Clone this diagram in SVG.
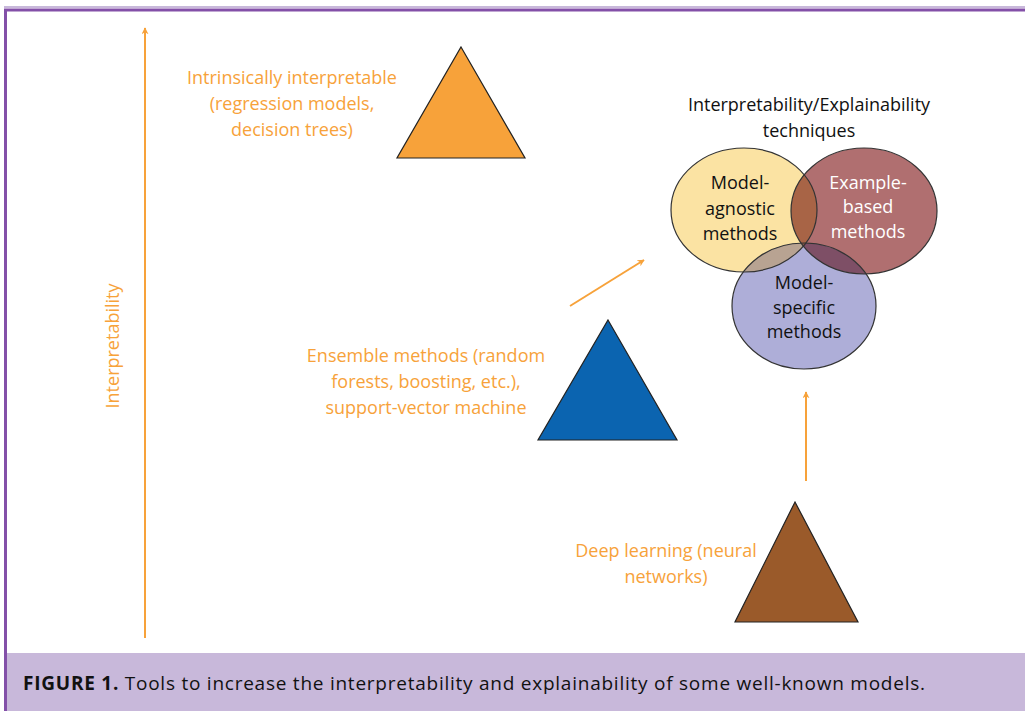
<svg xmlns="http://www.w3.org/2000/svg" width="1025" height="711" viewBox="0 0 1025 711">
<style>
.lbl{font-family:"Open Sans",Lato,sans-serif;font-size:18px;fill:#F7A23A;text-anchor:middle}
.blk{font-family:"Open Sans",Lato,sans-serif;font-size:18px;fill:#111;text-anchor:middle}
.wht{font-family:"Open Sans",Lato,sans-serif;font-size:18px;fill:#fff;text-anchor:middle}
.ar{stroke:#F7A23A;stroke-width:2;fill:none}
.tri{stroke:#222;stroke-width:1.2}
.ell{fill:none;stroke:#333;stroke-width:1.2}
</style>
<defs>
<marker id="ah" viewBox="0 0 10 10" refX="9" refY="5" markerWidth="7" markerHeight="7" orient="auto" markerUnits="userSpaceOnUse">
<path d="M0,0 L10,5 L0,10 L3,5 Z" fill="#F7A23A"/>
</marker>
<clipPath id="cy"><ellipse cx="744" cy="210" rx="73" ry="62"/></clipPath>
<clipPath id="cr"><ellipse cx="864" cy="211" rx="73" ry="63"/></clipPath>
</defs>
<rect x="0" y="0" width="1025" height="711" fill="#fff"/>
<rect x="6" y="653" width="1019" height="58" fill="#C8B8DA"/>
<line x1="4" y1="7" x2="1025" y2="7" stroke="#C8B8DA" stroke-width="2"/>
<line x1="4" y1="10" x2="1025" y2="10" stroke="#8350A8" stroke-width="3"/>
<line x1="5.5" y1="9" x2="5.5" y2="711" stroke="#8350A8" stroke-width="3"/>
<text x="23" y="690" textLength="902" lengthAdjust="spacing" style="font-family:'Open Sans',Lato,sans-serif;font-size:19px;fill:#111"><tspan font-weight="bold">FIGURE 1.</tspan> Tools to increase the interpretability and explainability of some well-known models.</text>

<g id="connectors">
<line class="ar" x1="145" y1="638" x2="145" y2="28" marker-end="url(#ah)"/>
<line class="ar" x1="570" y1="306" x2="644" y2="260" marker-end="url(#ah)"/>
<line class="ar" x1="806" y1="481" x2="806" y2="392" marker-end="url(#ah)"/>
</g>

<g id="axis-label"><text class="lbl" transform="translate(119,346) rotate(-90)">Interpretability</text></g>

<g id="intrinsic">
<polygon class="tri" points="461,47 525,158 397,158" fill="#F7A23A"/>
<text class="lbl" x="292" y="84">Intrinsically interpretable</text>
<text class="lbl" x="292" y="110">(regression models,</text>
<text class="lbl" x="292" y="136">decision trees)</text>
</g>

<g id="ensemble">
<polygon class="tri" points="608,320 677,440 538,440" fill="#0B64B0"/>
<text class="lbl" x="426" y="362">Ensemble methods (random</text>
<text class="lbl" x="426" y="388">forests, boosting, etc.),</text>
<text class="lbl" x="426" y="414">support-vector machine</text>
</g>

<g id="deep">
<polygon class="tri" points="795,502 858,622 735,622" fill="#9A5A2A"/>
<text class="lbl" x="666" y="557">Deep learning (neural</text>
<text class="lbl" x="666" y="583">networks)</text>
</g>

<g id="techniques">
<text class="blk" x="809" y="111">Interpretability/Explainability</text>
<text class="blk" x="809" y="137">techniques</text>
<ellipse cx="744" cy="210" rx="73" ry="62" fill="#FBE3A3"/>
<ellipse cx="864" cy="211" rx="73" ry="63" fill="#B06F70"/>
<ellipse cx="804" cy="306" rx="72" ry="63" fill="#AEAED8"/>
<ellipse cx="864" cy="211" rx="73" ry="63" fill="#A86446" clip-path="url(#cy)"/>
<ellipse cx="804" cy="306" rx="72" ry="63" fill="#B8A392" clip-path="url(#cy)"/>
<ellipse cx="804" cy="306" rx="72" ry="63" fill="#7E4F66" clip-path="url(#cr)"/>
<g clip-path="url(#cy)"><ellipse cx="804" cy="306" rx="72" ry="63" fill="#8E5848" clip-path="url(#cr)"/></g>
<ellipse class="ell" cx="744" cy="210" rx="73" ry="62"/>
<ellipse class="ell" cx="864" cy="211" rx="73" ry="63"/>
<ellipse class="ell" cx="804" cy="306" rx="72" ry="63"/>
</g>

<g id="model-agnostic">
<text class="blk" x="740" y="189">Model-</text>
<text class="blk" x="740" y="215">agnostic</text>
<text class="blk" x="740" y="240">methods</text>
</g>
<g id="example-based">
<text class="wht" x="868" y="189">Example-</text>
<text class="wht" x="868" y="213">based</text>
<text class="wht" x="868" y="238">methods</text>
</g>
<g id="model-specific">
<text class="blk" x="804" y="289">Model-</text>
<text class="blk" x="804" y="314">specific</text>
<text class="blk" x="804" y="338">methods</text>
</g>
</svg>
